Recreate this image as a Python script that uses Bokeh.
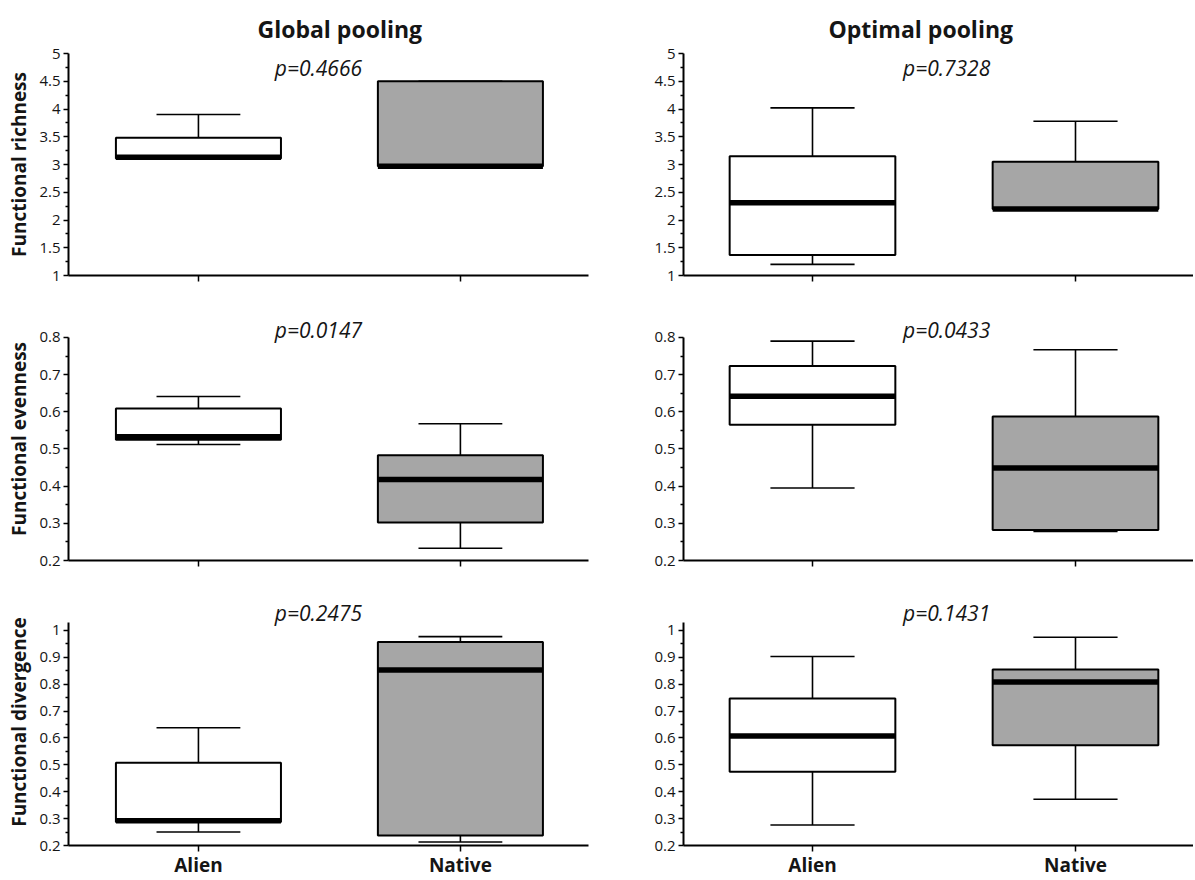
from bokeh.plotting import figure
from bokeh.layouts import gridplot
from bokeh.models import Range1d, FixedTicker, Label, ColumnDataSource
from bokeh.embed import file_html
from bokeh.resources import INLINE

# ---------------- data ----------------
groups = ["Alien", "Native"]
group_pos = [1, 2]
fills = ["#ffffff", "#a6a6a6"]
poolings = ["Global pooling", "Optimal pooling"]
metrics = ["Functional richness", "Functional evenness", "Functional divergence"]

# Functional richness
rich_global_min = [3.10, 2.97]
rich_global_q1 = [3.11, 2.97]
rich_global_med = [3.13, 2.97]
rich_global_q3 = [3.48, 4.50]
rich_global_max = [3.90, 4.50]

rich_opt_min = [1.20, 2.20]
rich_opt_q1 = [1.37, 2.20]
rich_opt_med = [2.31, 2.20]
rich_opt_q3 = [3.15, 3.05]
rich_opt_max = [4.02, 3.78]

# Functional evenness
even_global_min = [0.512, 0.233]
even_global_q1 = [0.525, 0.302]
even_global_med = [0.533, 0.418]
even_global_q3 = [0.609, 0.483]
even_global_max = [0.641, 0.568]

even_opt_min = [0.395, 0.278]
even_opt_q1 = [0.565, 0.282]
even_opt_med = [0.642, 0.449]
even_opt_q3 = [0.723, 0.587]
even_opt_max = [0.790, 0.767]

# Functional divergence
div_global_min = [0.250, 0.213]
div_global_q1 = [0.287, 0.237]
div_global_med = [0.292, 0.853]
div_global_q3 = [0.508, 0.957]
div_global_max = [0.638, 0.977]

div_opt_min = [0.276, 0.372]
div_opt_q1 = [0.474, 0.573]
div_opt_med = [0.607, 0.808]
div_opt_q3 = [0.747, 0.855]
div_opt_max = [0.903, 0.975]

p_values = [["p=0.4666", "p=0.7328"],
            ["p=0.0147", "p=0.0433"],
            ["p=0.2475", "p=0.1431"]]

rich_ticks = [1, 1.5, 2, 2.5, 3, 3.5, 4, 4.5, 5]
rich_labels = ["1", "1.5", "2", "2.5", "3", "3.5", "4", "4.5", "5"]
even_ticks = [0.2, 0.3, 0.4, 0.5, 0.6, 0.7, 0.8]
even_labels = ["0.2", "0.3", "0.4", "0.5", "0.6", "0.7", "0.8"]
div_ticks = [0.2, 0.3, 0.4, 0.5, 0.6, 0.7, 0.8, 0.9, 1]
div_labels = ["0.2", "0.3", "0.4", "0.5", "0.6", "0.7", "0.8", "0.9", "1"]

panels = [
    [(rich_global_min, rich_global_q1, rich_global_med, rich_global_q3, rich_global_max),
     (rich_opt_min, rich_opt_q1, rich_opt_med, rich_opt_q3, rich_opt_max)],
    [(even_global_min, even_global_q1, even_global_med, even_global_q3, even_global_max),
     (even_opt_min, even_opt_q1, even_opt_med, even_opt_q3, even_opt_max)],
    [(div_global_min, div_global_q1, div_global_med, div_global_q3, div_global_max),
     (div_opt_min, div_opt_q1, div_opt_med, div_opt_q3, div_opt_max)],
]
row_ticks = [(rich_ticks, rich_labels), (even_ticks, even_labels), (div_ticks, div_labels)]

# ---------------- layout / style ----------------
FONT = "Open Sans"
TXT = "#151515"
y_ranges = [(1, 5), (0.2, 0.8536), (0.2, 1.119)]
axis_bounds = [(1, 5), (0.2, 0.8), (0.2, 1.03)]
p_label_y = [4.73, 0.819, 1.066]
p_label_x = [1.458, 1.51]
frame_heights = [222, 243, 247]
border_top = [53, 22, 18]
border_bottom = [20, 20, 28]
col_frame_w = [520, 510]
col_left = [68, 75]
col_right = [20, 0]
x_ranges = [(0.504, 2.489), (0.5095, 2.4487)]
title_offsets = [189, 145]
BOX_W = 0.63
CAP_W = 0.32

figs = []
for r in range(3):
    row_figs = []
    for c in range(2):
        mn, q1, med, q3, mx = panels[r][c]
        p = figure(
            output_backend="svg", toolbar_location=None,
            frame_width=col_frame_w[c], frame_height=frame_heights[r],
            min_border_left=col_left[c], min_border_right=col_right[c],
            min_border_top=border_top[r], min_border_bottom=border_bottom[r],
            x_range=Range1d(*x_ranges[c]), y_range=Range1d(*y_ranges[r]),
            background_fill_color="white", border_fill_color="white",
        )
        p.outline_line_color = None
        p.xgrid.visible = False
        p.ygrid.visible = False

        src = ColumnDataSource(dict(
            x=group_pos, mn=mn, q1=q1, med=med, q3=q3, mx=mx, fill=fills,
            cl=[g - CAP_W / 2 for g in group_pos], cr=[g + CAP_W / 2 for g in group_pos],
            bl=[g - BOX_W / 2 for g in group_pos], br=[g + BOX_W / 2 for g in group_pos],
        ))
        # whiskers
        p.segment(x0="x", y0="q3", x1="x", y1="mx", source=src, line_color="black", line_width=1.6)
        p.segment(x0="x", y0="q1", x1="x", y1="mn", source=src, line_color="black", line_width=1.6)
        p.segment(x0="cl", y0="mx", x1="cr", y1="mx", source=src, line_color="black", line_width=1.6)
        p.segment(x0="cl", y0="mn", x1="cr", y1="mn", source=src, line_color="black", line_width=1.6)
        # boxes
        p.vbar(x="x", width=BOX_W, bottom="q1", top="q3", source=src,
               fill_color="fill", line_color="black", line_width=2)
        # medians
        p.segment(x0="bl", y0="med", x1="br", y1="med", source=src,
                  line_color="black", line_width=5.5)

        # p-value
        p.add_layout(Label(x=p_label_x[c], y=p_label_y[r], text=p_values[r][c],
                           text_align="center", text_baseline="middle",
                           text_font=FONT, text_font_style="italic",
                           text_font_size="21px", text_color=TXT))

        # y axis
        ticks, labels = row_ticks[r]
        minors = [(a + b) / 2 for a, b in zip(ticks[:-1], ticks[1:])]
        ya = p.yaxis[0]
        ya.bounds = axis_bounds[r]
        ya.ticker = FixedTicker(ticks=ticks, minor_ticks=minors)
        ya.major_label_overrides = {t: l for t, l in zip(ticks, labels)}
        ya.axis_line_width = 2
        ya.axis_line_color = "black"
        ya.major_tick_in = 0
        ya.major_tick_out = 5
        ya.major_tick_line_width = 1.5
        ya.minor_tick_in = 0
        ya.minor_tick_out = 3
        ya.minor_tick_line_width = 1.5
        ya.major_label_text_font = FONT
        ya.major_label_text_font_size = "15px"
        ya.major_label_text_color = TXT
        ya.major_label_standoff = 3
        if c == 0:
            ya.axis_label = metrics[r]
            ya.axis_label_text_font = FONT
            ya.axis_label_text_font_style = "bold"
            ya.axis_label_text_font_size = "19px"
            ya.axis_label_text_color = TXT
            ya.axis_label_standoff = 4

        # x axis
        xa = p.xaxis[0]
        xa.ticker = FixedTicker(ticks=group_pos, minor_ticks=[])
        xa.axis_line_width = 2
        xa.axis_line_color = "black"
        xa.major_tick_in = 0
        xa.major_tick_out = 6
        xa.major_tick_line_width = 1.5
        xa.minor_tick_line_color = None
        if r == 2:
            xa.major_label_overrides = {g: n for g, n in zip(group_pos, groups)}
            xa.major_label_text_font = FONT
            xa.major_label_text_font_style = "bold"
            xa.major_label_text_font_size = "19px"
            xa.major_label_text_color = TXT
            xa.major_label_standoff = 0
        else:
            xa.major_label_overrides = {g: "" for g in group_pos}
            xa.major_label_text_font_size = "0px"
            xa.major_label_standoff = 0

        if r == 0:
            p.title.text = poolings[c]
            p.title.align = "left"
            p.title.offset = title_offsets[c]
            p.title.text_font = FONT
            p.title.text_font_style = "bold"
            p.title.text_font_size = "23px"
            p.title.text_color = TXT
            p.title.standoff = 17

        row_figs.append(p)
    figs.append(row_figs)

grid = gridplot(figs, toolbar_location=None)
open("out.html", "w").write(file_html(grid, INLINE))
